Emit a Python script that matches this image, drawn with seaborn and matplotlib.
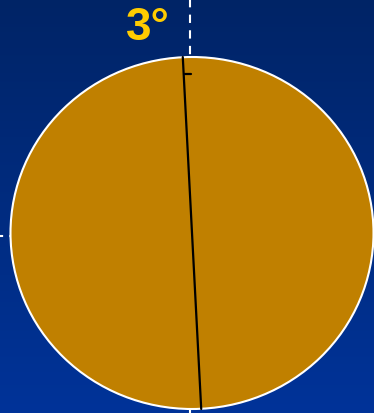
import numpy as np
import pandas as pd
import seaborn as sns
import matplotlib.pyplot as plt
from matplotlib.patches import Ellipse
from matplotlib.colors import LinearSegmentedColormap

# Данные: угол наклона оси и подпись
tilt_deg = [3]
tilt_label = ['3°']

sns.set_style('white')
plt.rcParams['font.family'] = ['Liberation Sans', 'DejaVu Sans']

W, H = 374, 414
fig = plt.figure(figsize=(W / 100, H / 100), dpi=100)
ax = fig.add_axes([0, 0, 1, 1])
ax.set_xlim(0, W)
ax.set_ylim(H, 0)
ax.axis('off')

# Фон с градиентом
grad = np.linspace(0, 1, 256).reshape(-1, 1)
cmap = LinearSegmentedColormap.from_list('bg', ['#002466', '#003399'])
ax.imshow(grad, cmap=cmap, extent=[0, W, H, 0], aspect='auto', zorder=0)

# Планета
cx, cy, w, h = 192, 234, 363, 352
ax.add_patch(Ellipse((cx, cy), w, h, facecolor='#C08000', edgecolor='white', lw=1.5, zorder=2))

# Пунктирные оси
ax.plot([190.5, 190.5], [0, cy - h / 2], color='white', lw=1.5, ls=(0, (4, 3.5)), zorder=1)
ax.plot([190.5, 190.5], [cy + h / 2, H], color='white', lw=1.5, ls=(0, (4, 3.5)), zorder=1)
ax.plot([0, cx - w / 2], [237, 237], color='white', lw=1.5, ls=(0, (1.5, 3)), zorder=1)

# Наклонная ось вращения
t = np.radians(tilt_deg[0])
r = h / 2
axis_df = pd.DataFrame({'x': [cx - r * np.tan(t), cx + r * np.tan(t)],
                        'y': [cy - r, cy + r]})
sns.lineplot(data=axis_df, x='x', y='y', color='black', lw=1.6, sort=False, ax=ax, zorder=3)
ax.plot([185, 191], [75, 75], color='black', lw=1.6, zorder=3)

ax.text(148, 40, tilt_label[0], color='#FFCC00', fontsize=33, fontweight='bold',
        ha='center', va='baseline', zorder=4)

ax.set_xlim(0, W)
ax.set_ylim(H, 0)
ax.axis('off')
fig.savefig('out.png', dpi=100)
